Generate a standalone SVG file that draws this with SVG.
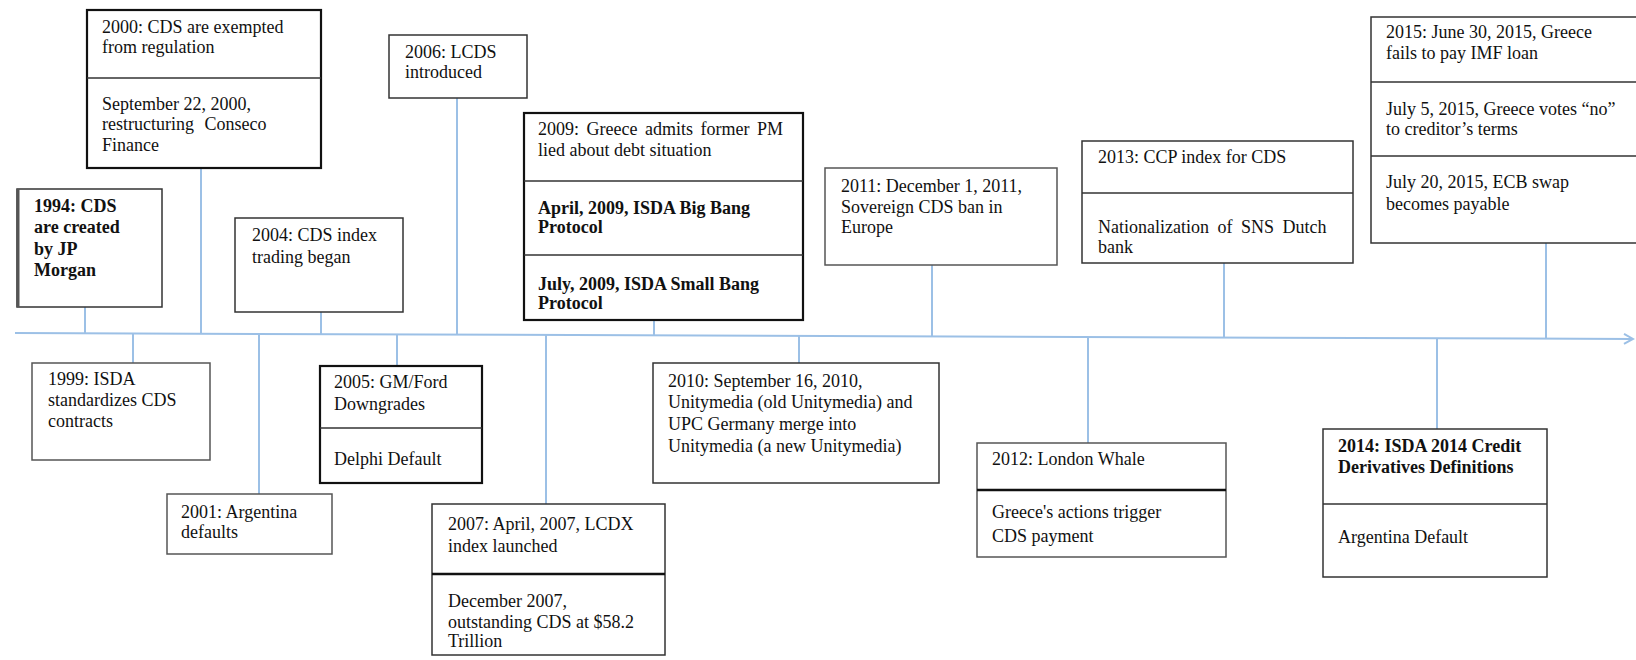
<svg xmlns="http://www.w3.org/2000/svg" width="1636" height="660" viewBox="0 0 1636 660">
<defs>
<style>
.bx{fill:#fff;stroke:#333;stroke-width:1.5}
.bxt{fill:#fff;stroke:#111;stroke-width:2.2}
.bxg{fill:#fff;stroke:#555;stroke-width:1.5}
.dv{stroke:#333;stroke-width:1.5}
.dvt{stroke:#111;stroke-width:2.5}
.cn{stroke:#9cc0e6;stroke-width:2;fill:none}
text{font-family:"Liberation Serif","Times New Roman",serif;font-size:18px;fill:#111}
.b{font-weight:bold}
</style>
<marker id="arr" markerWidth="12" markerHeight="12" refX="10" refY="6" orient="auto" markerUnits="userSpaceOnUse">
<path d="M1,1 L10,6 L1,11" fill="none" stroke="#9cc0e6" stroke-width="2"/>
</marker>
</defs>
<rect width="1636" height="660" fill="#fff"/>
<g id="connectors">
<line class="cn" x1="15" y1="333" x2="1633" y2="339" marker-end="url(#arr)"/>
<line class="cn" x1="85" y1="307" x2="85" y2="333"/>
<line class="cn" x1="201" y1="168" x2="201" y2="334"/>
<line class="cn" x1="133" y1="334" x2="133" y2="363"/>
<line class="cn" x1="259" y1="334" x2="259" y2="494"/>
<line class="cn" x1="321" y1="312" x2="321" y2="334"/>
<line class="cn" x1="397" y1="335" x2="397" y2="366"/>
<line class="cn" x1="457" y1="98" x2="457" y2="335"/>
<line class="cn" x1="546" y1="335" x2="546" y2="504"/>
<line class="cn" x1="654" y1="320" x2="654" y2="336"/>
<line class="cn" x1="799" y1="336" x2="799" y2="363"/>
<line class="cn" x1="932" y1="265" x2="932" y2="337"/>
<line class="cn" x1="1088" y1="337" x2="1088" y2="443"/>
<line class="cn" x1="1224" y1="263" x2="1224" y2="338"/>
<line class="cn" x1="1437" y1="338" x2="1437" y2="429"/>
<line class="cn" x1="1546" y1="243" x2="1546" y2="339"/>
</g>
<g id="n1994">
<rect class="bx" x="17" y="189" width="145" height="118"/>
<line x1="18" y1="189" x2="18" y2="307" stroke="#555" stroke-width="3"/>
<text class="b" x="34" y="212">1994: CDS</text>
<text class="b" x="34" y="233">are created</text>
<text class="b" x="34" y="255">by JP</text>
<text class="b" x="34" y="276">Morgan</text>
</g>
<g id="n2000">
<rect class="bxt" x="87" y="10" width="234" height="158"/>
<line class="dv" x1="87" y1="78" x2="321" y2="78"/>
<text x="102" y="33">2000: CDS are exempted</text>
<text x="102" y="53">from regulation</text>
<text x="102" y="110">September 22, 2000,</text>
<text x="102" y="130" word-spacing="6">restructuring Conseco</text>
<text x="102" y="151">Finance</text>
</g>
<g id="n1999">
<rect class="bxg" x="32" y="363" width="178" height="97"/>
<text x="48" y="385">1999: ISDA</text>
<text x="48" y="406">standardizes CDS</text>
<text x="48" y="427">contracts</text>
</g>
<g id="n2001">
<rect class="bxg" x="167" y="494" width="165" height="60"/>
<text x="181" y="518">2001: Argentina</text>
<text x="181" y="538">defaults</text>
</g>
<g id="n2004">
<rect class="bx" x="235" y="218" width="168" height="94"/>
<text x="252" y="241">2004: CDS index</text>
<text x="252" y="263">trading began</text>
</g>
<g id="n2005">
<rect class="bxt" x="320" y="366" width="162" height="117"/>
<line class="dv" x1="320" y1="428" x2="482" y2="428"/>
<text x="334" y="388">2005: GM/Ford</text>
<text x="334" y="410">Downgrades</text>
<text x="334" y="465">Delphi Default</text>
</g>
<g id="n2006">
<rect class="bx" x="389" y="35" width="138" height="63"/>
<text x="405" y="58">2006: LCDS</text>
<text x="405" y="78">introduced</text>
</g>
<g id="n2007">
<rect class="bx" x="432" y="504" width="233" height="151"/>
<line class="dvt" x1="432" y1="574" x2="665" y2="574"/>
<text x="448" y="530">2007: April, 2007, LCDX</text>
<text x="448" y="552">index launched</text>
<text x="448" y="607">December 2007,</text>
<text x="448" y="628">outstanding CDS at $58.2</text>
<text x="448" y="647">Trillion</text>
</g>
<g id="n2009">
<rect class="bxt" x="524" y="113" width="279" height="207"/>
<line class="dv" x1="524" y1="181" x2="803" y2="181"/>
<line class="dv" x1="524" y1="255" x2="803" y2="255"/>
<text x="538" y="135" word-spacing="3">2009: Greece admits former PM</text>
<text x="538" y="156">lied about debt situation</text>
<text class="b" x="538" y="214">April, 2009, ISDA Big Bang</text>
<text class="b" x="538" y="233">Protocol</text>
<text class="b" x="538" y="290">July, 2009, ISDA Small Bang</text>
<text class="b" x="538" y="309">Protocol</text>
</g>
<g id="n2010">
<rect class="bx" x="653" y="363" width="286" height="120"/>
<text x="668" y="387">2010: September 16, 2010,</text>
<text x="668" y="408">Unitymedia (old Unitymedia) and</text>
<text x="668" y="430">UPC Germany merge into</text>
<text x="668" y="452">Unitymedia (a new Unitymedia)</text>
</g>
<g id="n2011">
<rect class="bxg" x="825" y="168" width="232" height="97"/>
<text x="841" y="192">2011: December 1, 2011,</text>
<text x="841" y="213">Sovereign CDS ban in</text>
<text x="841" y="233">Europe</text>
</g>
<g id="n2012">
<rect class="bxg" x="977" y="443" width="249" height="114"/>
<line class="dvt" x1="977" y1="490" x2="1226" y2="490"/>
<text x="992" y="465">2012: London Whale</text>
<text x="992" y="518">Greece's actions trigger</text>
<text x="992" y="542">CDS payment</text>
</g>
<g id="n2013">
<rect class="bx" x="1082" y="141" width="271" height="122"/>
<line class="dv" x1="1082" y1="193" x2="1353" y2="193"/>
<text x="1098" y="163">2013: CCP index for CDS</text>
<text x="1098" y="233" word-spacing="4">Nationalization of SNS Dutch</text>
<text x="1098" y="253">bank</text>
</g>
<g id="n2014">
<rect class="bx" x="1323" y="429" width="224" height="148"/>
<line class="dv" x1="1323" y1="504" x2="1547" y2="504"/>
<text class="b" x="1338" y="452">2014: ISDA 2014 Credit</text>
<text class="b" x="1338" y="473">Derivatives Definitions</text>
<text x="1338" y="543">Argentina Default</text>
</g>
<g id="n2015">
<rect class="bx" x="1371" y="17" width="275" height="226"/>
<line class="dv" x1="1371" y1="82" x2="1636" y2="82"/>
<line class="dv" x1="1371" y1="156" x2="1636" y2="156"/>
<text x="1386" y="38">2015: June 30, 2015, Greece</text>
<text x="1386" y="59">fails to pay IMF loan</text>
<text x="1386" y="115">July 5, 2015, Greece votes “no”</text>
<text x="1386" y="135">to creditor’s terms</text>
<text x="1386" y="188">July 20, 2015, ECB swap</text>
<text x="1386" y="210">becomes payable</text>
</g>
</svg>
